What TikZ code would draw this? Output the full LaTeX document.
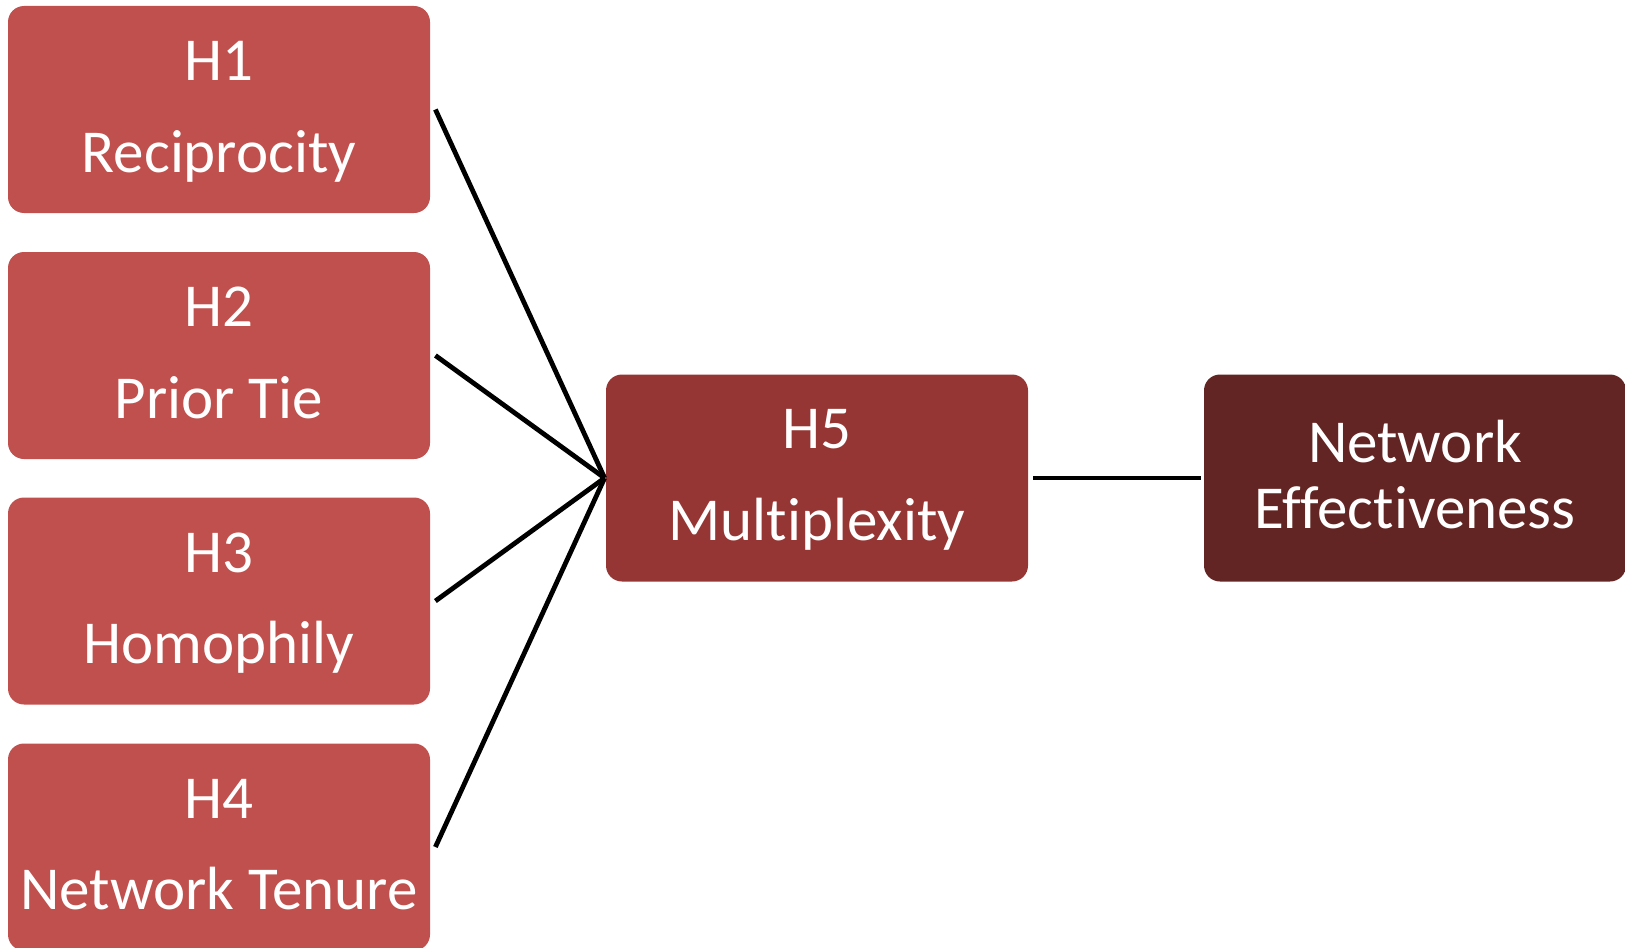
\documentclass[tikz,border=0pt]{standalone}
\usepackage{fontspec}
\setmainfont{Carlito}[Ligatures={NoCommon}]
\definecolor{hypred}{HTML}{C0504D}
\definecolor{midred}{HTML}{963634}
\definecolor{darkred}{HTML}{632523}
\begin{document}
\begin{tikzpicture}[x=0.5pt,y=-0.5pt,
  box/.style={rounded corners=8pt,minimum width=211pt,minimum height=103.5pt,inner sep=0pt,draw=none},
  label/.style={anchor=base,text=white,font=\fontsize{30.5}{36}\selectfont,inner sep=0pt},
  link/.style={line width=2.4pt,black}]
\useasboundingbox (0,0) rectangle (1625,947);
% hypothesis boxes
\node[box,fill=hypred] (h1) at (219,109.5) {};
\node[box,fill=hypred] (h2) at (219,355.5) {};
\node[box,fill=hypred] (h3) at (219,601) {};
\node[box,fill=hypred] (h4) at (219,847) {};
\node[box,fill=midred] (h5) at (817,478) {};
\node[box,fill=darkred] (ne) at (1415,478) {};
% labels
\node[label] (h1a) at (219,80.5) {H1};
\node[label] (h1b) at (219,172) {Reciprocity};
\node[label] (h2a) at (219,326.5) {H2};
\node[label] (h2b) at (219,418) {Prior Tie};
\node[label] (h3a) at (219,572) {H3};
\node[label] (h3b) at (219,663.5) {Homophily};
\node[label] (h4a) at (219,818) {H4};
\node[label] (h4b) at (219,909.5) {Network Tenure};
\node[label] (h5a) at (817,448.5) {H5};
\node[label] (h5b) at (817,540.5) {Multiplexity};
\node[label] (nea) at (1415,462) {Network};
\node[label] (neb) at (1415,528) {Effectiveness};
% connectors
\coordinate (apex) at ([xshift=-0.5pt]h5.west);
\foreach \n in {h1,h2,h3,h4}
  \draw[link] ([xshift=2.5pt]\n.east) -- (apex);
\draw[link] ([xshift=2.5pt]h5.east) -- ([xshift=-1.5pt]ne.west);
\end{tikzpicture}
\end{document}
